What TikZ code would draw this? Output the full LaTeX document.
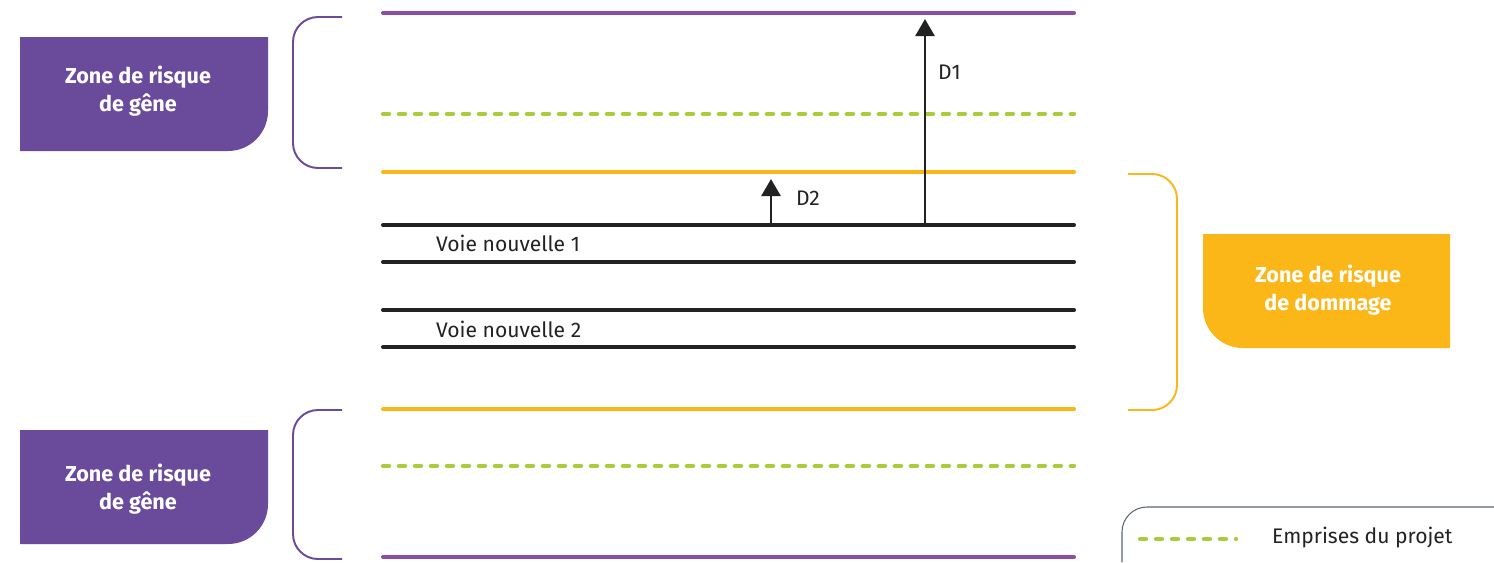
\documentclass[tikz,border=0pt]{standalone}
\usepackage{fontspec}
\setmainfont{Fira Sans}
\usetikzlibrary{arrows.meta}
\definecolor{zpurple}{HTML}{6A4A9B}
\definecolor{lpurple}{HTML}{8C4F9F}
\definecolor{zgreen}{HTML}{A9CC3B}
\definecolor{zorange}{HTML}{FBB618}
\definecolor{zgrey}{HTML}{5B6377}
\definecolor{ztext}{HTML}{222222}
\begin{document}
\begin{tikzpicture}[x=0.02cm, y=-0.02cm,
  track/.style={line width=2.3pt, line cap=round},
  emprise/.style={track, zgreen, line width=2.5pt, dash pattern=on 0.12cm off 0.2cm},
  bracket/.style={line width=1.1pt, rounded corners=0.5cm},
  zonetext/.style={text=white, font=\bfseries\fontsize{12.3}{16}\selectfont, align=center},
  label/.style={text=ztext, font=\fontsize{12}{13}\selectfont},
  dist/.style={line width=1.5pt, ztext, -{Triangle[width=0.38cm,length=0.34cm]}}]
  \useasboundingbox (0,0) rectangle (1494,562);
  % limits of the corridor
  \draw[track, lpurple] (383,13) -- (1074,13);
  \draw[emprise] (383,114) -- (1074,114);
  \draw[track, zorange] (383,172) -- (1074,172);
  \draw[track, ztext] (383,225) -- (1074,225);
  \draw[track, ztext] (383,262) -- (1074,262);
  \draw[track, ztext] (383,310) -- (1074,310);
  \draw[track, ztext] (383,347) -- (1074,347);
  \draw[track, zorange] (383,409) -- (1074,409);
  \draw[emprise] (383,466) -- (1074,466);
  \draw[track, lpurple] (383,557) -- (1074,557);
  \node[label, anchor=west] (voie1) at (430,243) {Voie nouvelle 1};
  \node[label, anchor=west] (voie2) at (430,329) {Voie nouvelle 2};
  % distances
  \coordinate (D2a) at (771,225);
  \coordinate (D2b) at (771,179);
  \coordinate (D1a) at (925,225);
  \coordinate (D1b) at (925,19);
  \draw[dist] (D2a) -- (D2b);
  \draw[dist] (D1a) -- (D1b);
  \node[label, anchor=west] (d2) at (790,198) {D2};
  \node[label, anchor=west] (d1) at (932,72) {D1};
  % zones
  \fill[zpurple] (20,37) -- (268,37) [rounded corners=0.8cm] -- (268,151) [sharp corners] -- (20,151) -- cycle;
  \node[zonetext] (gene1) at (138,91) {Zone de risque\\de gêne};
  \fill[zpurple] (20,430) -- (268,430) [rounded corners=0.8cm] -- (268,544) [sharp corners] -- (20,544) -- cycle;
  \node[zonetext] (gene2) at (138,489) {Zone de risque\\de gêne};
  \fill[zorange] (1450,234) -- (1203,234) [rounded corners=0.8cm] -- (1203,348) [sharp corners] -- (1450,348) -- cycle;
  \node[zonetext] (dommage) at (1328,290) {Zone de risque\\de dommage};
  \draw[bracket, zpurple] (342,17) -- (293,17) -- (293,168) -- (342,168);
  \draw[bracket, zpurple] (342,410) -- (293,410) -- (293,559) -- (342,559);
  \draw[bracket, zorange] (1128,174) -- (1177,174) -- (1177,410) -- (1128,410);
  % legend
  \draw[line width=0.6pt, zgrey, rounded corners=0.5cm] (1494,507) -- (1122,507) -- (1122,562);
  \draw[emprise] (1140,539) -- (1236,539);
  \node[label, anchor=west] (legende) at (1266,538) {Emprises du projet};
\end{tikzpicture}
\end{document}
